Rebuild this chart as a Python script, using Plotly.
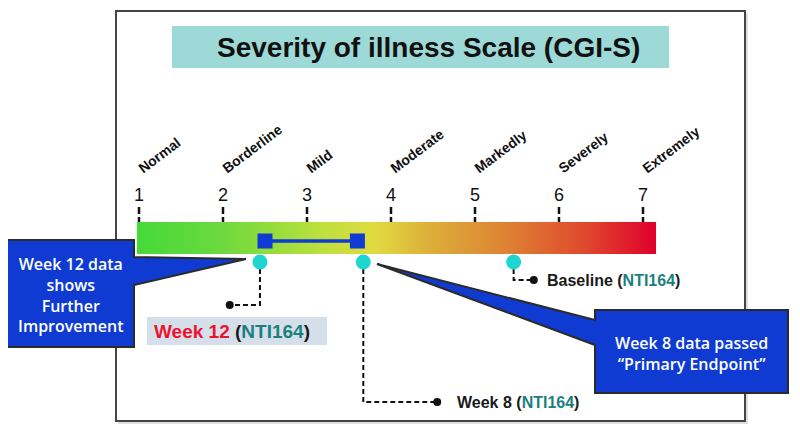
import plotly.graph_objects as go

# ---------------- data ----------------
SCALE_VALUES = [1, 2, 3, 4, 5, 6, 7]
SCALE_NUMBERS = ["1", "2", "3", "4", "5", "6", "7"]
SEVERITY_LABELS = ["Normal", "Borderline", "Mild", "Moderate", "Markedly", "Severely", "Extremely"]

# range markers (blue squares joined by a line)
RANGE_VALUES = [2.5, 3.6]
# observed scores (cyan dots)
POINT_NAMES = ["Week 12", "Week 8", "Baseline"]
POINT_VALUES = [2.44, 3.67, 5.46]

TITLE = "Severity of illness Scale (CGI-S)"

# ---------------- geometry / style ----------------
OFF = 8                 # page body margin of the html page
FW, FH = 784, 419       # figure size (fits inside the 800x435 window)
PX_ONE = 139.0          # page pixel of scale value 1
PX_UNIT = 84.0          # pixels per scale unit
X_RANGE = [1 + (OFF - PX_ONE) / PX_UNIT, 1 + (OFF + FW - PX_ONE) / PX_UNIT]
BAR_START, BAR_END = 0.975, 7.155
BAR_TOP, BAR_BOT = 222, 254
DOT_Y, SQ_Y = 262, 241

GREEN_RED = [
    [0.00, "#45d93a"], [0.16, "#6cd93d"], [0.36, "#bfe03d"], [0.46, "#e0da40"],
    [0.56, "#ddb03a"], [0.70, "#de8634"], [0.86, "#df4a2d"], [1.00, "#e0002c"],
]
TEAL = "#1b7f80"
BLUE = "#0f3bd2"
CYAN = "#1ed6cf"
FONT = "Liberation Sans, Arial, sans-serif"
CALLOUT_FONT = "Open Sans, sans-serif"


def P(px):
    """page x pixel -> paper fraction"""
    return (px - OFF) / FW


def PY(py):
    """page y pixel -> paper fraction"""
    return 1 - (py - OFF) / FH


fig = go.Figure()

# gradient bar
fig.add_trace(go.Scatter(
    x=[BAR_START, BAR_END, BAR_END, BAR_START, BAR_START],
    y=[BAR_TOP, BAR_TOP, BAR_BOT, BAR_BOT, BAR_TOP],
    mode="lines", line=dict(width=0), fill="toself",
    fillgradient=dict(type="horizontal", colorscale=GREEN_RED),
    hoverinfo="skip", showlegend=False))

# dashed tick marks above the bar
tx, ty = [], []
for v in SCALE_VALUES:
    tx += [v, v, None]
    ty += [207, BAR_TOP, None]
fig.add_trace(go.Scatter(x=tx, y=ty, mode="lines",
                         line=dict(color="#111", width=2.5, dash="7px,3px"),
                         hoverinfo="skip", showlegend=False))

# range line + squares
fig.add_trace(go.Scatter(x=RANGE_VALUES, y=[SQ_Y] * len(RANGE_VALUES), mode="lines+markers",
                         line=dict(color=BLUE, width=3.5),
                         marker=dict(symbol="square", size=15, color=BLUE),
                         hoverinfo="skip", showlegend=False))

# connectors (dashed) with end dots
CONNECT = {
    "Week 12": dict(bottom=305, end=2.08),
    "Week 8": dict(bottom=402, end=4.55),
    "Baseline": dict(bottom=280, end=5.70),
}
for name, v in zip(POINT_NAMES, POINT_VALUES):
    c = CONNECT[name]
    fig.add_trace(go.Scatter(x=[v, v, c["end"]], y=[DOT_Y + 7, c["bottom"], c["bottom"]],
                             mode="lines", line=dict(color="#111", width=2, dash="5px,3px"),
                             hoverinfo="skip", showlegend=False))
    fig.add_trace(go.Scatter(x=[c["end"]], y=[c["bottom"]], mode="markers",
                             marker=dict(size=8, color="#111"),
                             hoverinfo="skip", showlegend=False))

# cyan dots
fig.add_trace(go.Scatter(x=POINT_VALUES, y=[DOT_Y] * len(POINT_VALUES), mode="markers",
                         marker=dict(size=15, color=CYAN),
                         hoverinfo="skip", showlegend=False))

# dummy trace for the category-label axis
fig.add_trace(go.Scatter(x=[SCALE_VALUES[0], SCALE_VALUES[-1]], y=[None, None], xaxis="x2",
                         mode="markers", hoverinfo="skip", showlegend=False))

shapes = [
    # frame shadow + frame
    dict(type="rect", xref="paper", yref="y", x0=P(118), x1=P(748), y0=13, y1=424,
         line=dict(width=0), fillcolor="rgba(0,0,0,0.12)", layer="below"),
    dict(type="rect", xref="paper", yref="y", x0=P(116), x1=P(745), y0=11, y1=421,
         line=dict(color="#444", width=2), fillcolor="white", layer="below"),
    # title box
    dict(type="rect", xref="paper", yref="y", x0=P(172), x1=P(669), y0=26, y1=68,
         line=dict(width=0), fillcolor="#9dd9d7", layer="below"),
    # Week 12 label box
    dict(type="rect", xref="paper", yref="y", x0=P(147), x1=P(327), y0=317, y1=345,
         line=dict(width=0), fillcolor="#d5dfea", layer="below"),
    # left callout
    dict(type="path", xref="paper", yref="y", layer="above",
         path=(f"M {P(7)},240 L {P(134)},240 L {P(134)},257 L {P(246)},259 "
               f"L {P(134)},285 L {P(134)},347 L {P(7)},347 Z"),
         fillcolor=BLUE, line=dict(color="#2b2b2b", width=2)),
    # right callout
    dict(type="path", xref="paper", yref="y", layer="above",
         path=(f"M {P(595)},310 L {P(788)},310 L {P(788)},393 L {P(595)},393 "
               f"L {P(595)},345 L {P(377)},264 L {P(595)},320 Z"),
         fillcolor=BLUE, line=dict(color="#2b2b2b", width=2)),
]

annotations = [
    dict(text=f"<b>{TITLE}</b>", xref="paper", yref="y", x=P(428), y=47, showarrow=False,
         xanchor="center", yanchor="middle",
         font=dict(family=FONT, size=28, color="#111")),
    dict(text=f"<b>Baseline (<span style='color:{TEAL}'>NTI164</span>)</b>",
         xref="x", yref="y", x=5.83, y=280, xanchor="left", yanchor="middle", showarrow=False,
         font=dict(family=FONT, size=16, color="#1a1a1a")),
    dict(text=f"<b>Week 8 (<span style='color:{TEAL}'>NTI164</span>)</b>",
         xref="x", yref="y", x=4.76, y=402, xanchor="left", yanchor="middle", showarrow=False,
         font=dict(family=FONT, size=16, color="#1a1a1a")),
    dict(text=(f"<b><span style='color:#ec1330'>Week 12</span> "
               f"(<span style='color:{TEAL}'>NTI164</span>)</b>"),
         xref="paper", yref="y", x=P(232), y=331, xanchor="center", yanchor="middle",
         showarrow=False, font=dict(family=FONT, size=19, color="#1a1a1a")),
    dict(text="Week 12 data<br>shows<br>Further<br>Improvement",
         xref="paper", yref="y", x=P(70.5), y=295, xanchor="center", yanchor="middle",
         showarrow=False,
         font=dict(family=CALLOUT_FONT, size=16, color="white", weight=600)),
    dict(text="Week 8 data passed<br>“Primary Endpoint”",
         xref="paper", yref="y", x=P(691), y=353, xanchor="center", yanchor="middle",
         showarrow=False,
         font=dict(family=CALLOUT_FONT, size=16, color="white", weight=600)),
]

fig.update_layout(
    width=FW, height=FH, margin=dict(l=0, r=0, t=0, b=0),
    paper_bgcolor="white", plot_bgcolor="rgba(0,0,0,0)", template="none",
    showlegend=False, shapes=shapes, annotations=annotations,
    xaxis=dict(range=X_RANGE, side="top", anchor="free", position=PY(BAR_TOP),
               tickvals=SCALE_VALUES, ticktext=SCALE_NUMBERS, ticks="outside", ticklen=14,
               tickcolor="rgba(0,0,0,0)", showline=False, showgrid=False, zeroline=False,
               tickfont=dict(family=FONT, size=18, color="#111"), automargin=False,
               fixedrange=True),
    xaxis2=dict(matches="x", overlaying="x", side="top", anchor="free",
                position=PY(178), tickvals=SCALE_VALUES,
                ticktext=[f"<b>{t}</b>" for t in SEVERITY_LABELS], tickangle=-37,
                ticks="", showline=False, showgrid=False, zeroline=False,
                tickfont=dict(family=FONT, size=14, color="#111"), automargin=False),
    yaxis=dict(range=[OFF + FH, OFF], visible=False, fixedrange=True),
)

fig.write_html("out.html")
